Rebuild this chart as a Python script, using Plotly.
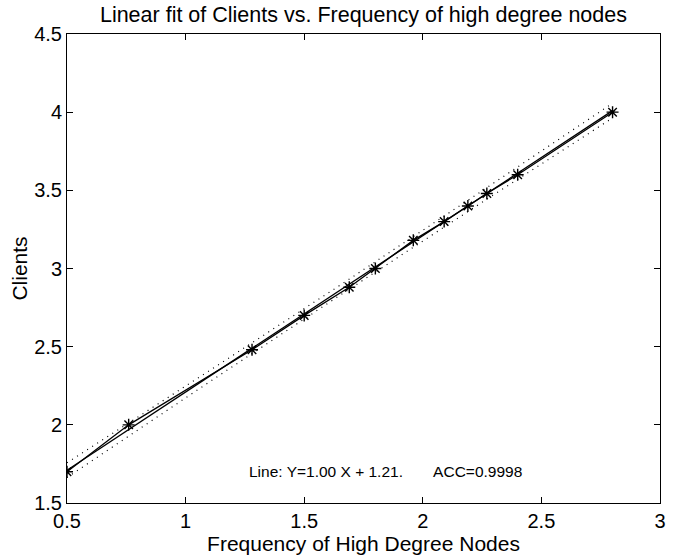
import plotly.graph_objects as go

# data points
freq = [0.50, 0.76, 1.28, 1.50, 1.69, 1.80, 1.96, 2.09, 2.19, 2.27, 2.40, 2.80]
clients = [1.70, 2.00, 2.48, 2.70, 2.88, 3.00, 3.18, 3.30, 3.40, 3.48, 3.60, 4.00]

# linear fit
slope = 1.00
intercept = 1.21
fit_x = [0.5, 2.8]
fit_y = [slope * v + intercept for v in fit_x]

# confidence bounds (dotted)
bound_x = [0.5, 1.1, 1.65, 2.2, 2.8]
bound_upper = [1.757, 2.346, 2.892, 3.446, 4.057]
bound_lower = [1.663, 2.274, 2.828, 3.374, 3.963]

x_ticks = [0.5, 1, 1.5, 2, 2.5, 3]
y_ticks = [1.5, 2, 2.5, 3, 3.5, 4, 4.5]

font_family = "Liberation Sans, Arial, Helvetica, sans-serif"

fig = go.Figure()
fig.add_trace(go.Scatter(x=bound_x, y=bound_upper, mode="lines",
                         line=dict(color="black", width=1.2, dash="1px,5px"), showlegend=False))
fig.add_trace(go.Scatter(x=bound_x, y=bound_lower, mode="lines",
                         line=dict(color="black", width=1.2, dash="1px,5px"), showlegend=False))
fig.add_trace(go.Scatter(x=fit_x, y=fit_y, mode="lines",
                         line=dict(color="black", width=1.3), showlegend=False))
fig.add_trace(go.Scatter(x=freq, y=clients, mode="lines+markers",
                         line=dict(color="black", width=1.3),
                         marker=dict(symbol="asterisk-open", size=10, color="black",
                                     line=dict(color="black", width=1.4)),
                         showlegend=False))

fig.add_annotation(x=1.258, y=1.70, xref="x", yref="y", xanchor="left", yanchor="middle",
                   text="Line: Y=1.00 X + 1.21.&nbsp;&nbsp;&nbsp;&nbsp;&nbsp;&nbsp;&nbsp;ACC=0.9998",
                   showarrow=False, font=dict(size=15.5, color="black", family=font_family))

axis_common = dict(showline=True, linecolor="black", linewidth=1, mirror="allticks",
                   ticks="inside", ticklen=6, tickcolor="black", tickwidth=1,
                   showgrid=False, zeroline=False,
                   tickfont=dict(size=20, color="black", family=font_family))

fig.update_layout(
    width=680, height=559,
    margin=dict(l=67, r=20, t=34, b=56),
    paper_bgcolor="white", plot_bgcolor="white",
    title=dict(text="Linear fit of Clients vs. Frequency of high degree nodes",
               x=0.5345, xanchor="center", y=0.975, yanchor="middle", yref="container",
               font=dict(size=21.5, color="black", family=font_family)),
    xaxis=dict(range=[0.5, 3], tickvals=x_ticks, ticktext=[str(v) for v in x_ticks],
               title=dict(text="Frequency of High Degree Nodes", standoff=0,
                          font=dict(size=21, color="black", family=font_family)),
               **axis_common),
    yaxis=dict(range=[1.5, 4.5], tickvals=y_ticks, ticktext=[str(v) for v in y_ticks],
               title=dict(text="Clients", standoff=0,
                          font=dict(size=21, color="black", family=font_family)),
               **axis_common),
)

fig.write_html("out.html")
